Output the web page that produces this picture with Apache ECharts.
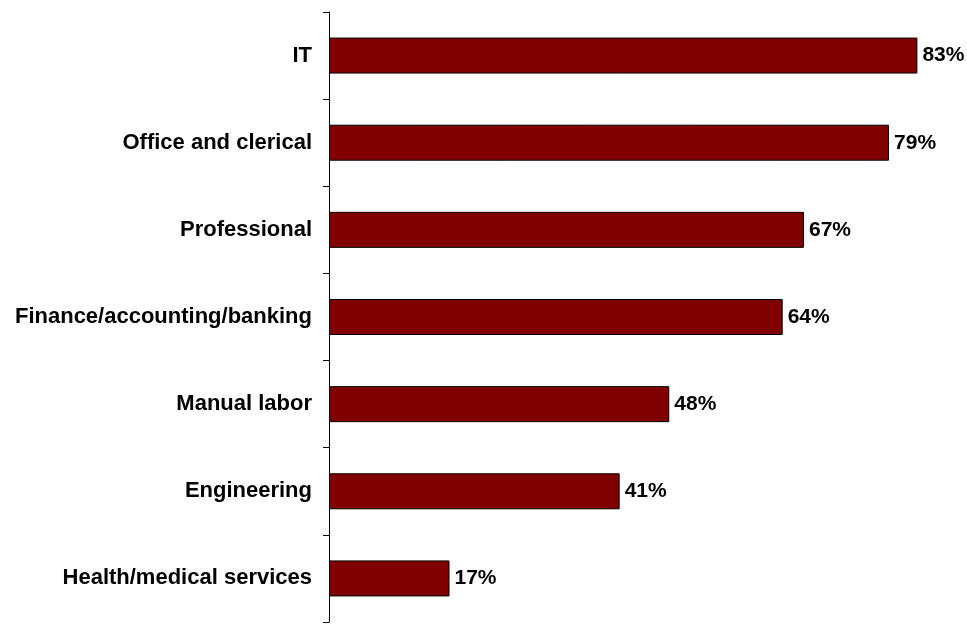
<!DOCTYPE html>
<html>
<head>
<meta charset="utf-8">
<script src="https://cdn.jsdelivr.net/npm/echarts@6/dist/echarts.min.js"></script>
<style>
  html, body { margin: 0; padding: 0; background: #fff; }
  #chart { width: 967px; height: 624px; }
</style>
</head>
<body>
<div id="chart"></div>
<script>
// Share of employers by job category (percent)
const categories = [
  'IT',
  'Office and clerical',
  'Professional',
  'Finance/accounting/banking',
  'Manual labor',
  'Engineering',
  'Health/medical services'
];
const values = [83, 79, 67, 64, 48, 41, 17];

const chart = echarts.init(document.getElementById('chart'));
chart.setOption({
  animation: false,
  backgroundColor: '#ffffff',
  grid: { left: 329, top: 12, height: 610, right: 0 },
  xAxis: {
    type: 'value',
    min: 0,
    max: 90,
    show: false
  },
  yAxis: {
    type: 'category',
    data: categories,
    inverse: true,
    axisLine: { show: true, lineStyle: { color: '#000', width: 1 } },
    axisTick: { show: true, inside: false, length: 6, lineStyle: { color: '#000' } },
    axisLabel: {
      margin: 17,
      color: '#000',
      fontFamily: 'Liberation Sans, Arial, sans-serif',
      fontWeight: 'bold',
      fontSize: 22
    },
    splitLine: { show: false }
  },
  series: [{
    type: 'bar',
    data: values,
    barWidth: 36,
    itemStyle: { color: '#800000', borderColor: '#000', borderWidth: 1 },
    label: {
      show: true,
      position: 'right',
      distance: 5,
      formatter: '{c}%',
      color: '#000',
      fontFamily: 'Liberation Sans, Arial, sans-serif',
      fontWeight: 'bold',
      fontSize: 21
    }
  }]
});
</script>
</body>
</html>
